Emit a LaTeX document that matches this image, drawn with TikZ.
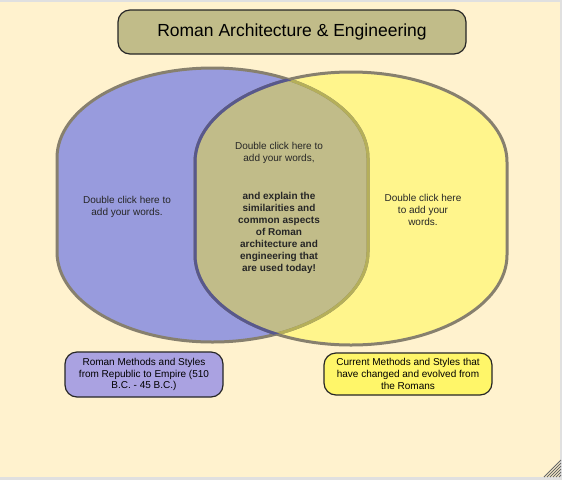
\documentclass[tikz,border=0pt]{standalone}
\usepackage{fontspec}
\setmainfont{Liberation Sans}
\usetikzlibrary{positioning}

\definecolor{paper}{RGB}{255,242,206}
\definecolor{rimgray}{RGB}{135,128,110}
\definecolor{lavender}{RGB}{152,155,221}
\definecolor{lemon}{RGB}{255,245,140}
\definecolor{olivemix}{RGB}{193,188,137}
\definecolor{bluerim}{RGB}{88,88,140}
\definecolor{yellowrim}{RGB}{181,175,90}
\definecolor{lilacbox}{RGB}{170,162,225}
\definecolor{lemonbox}{RGB}{255,246,105}

% the two overlapping rounded shapes
\newcommand{\romanpath}{(57,158) arc[start angle=180, end angle=360, x radius=155.5, y radius=90] -- (368,252) arc[start angle=0, end angle=180, x radius=155.5, y radius=90] -- cycle}
\newcommand{\todaypath}{(195,162) arc[start angle=180, end angle=360, x radius=156, y radius=90] -- (507,255) arc[start angle=0, end angle=180, x radius=156, y radius=90] -- cycle}

\begin{document}
\begin{tikzpicture}[x=1pt, y=-1pt,
    words/.style={align=center, font=\fontsize{10}{12}\selectfont, text=black!85},
    labelbox/.style={draw=black!85, line width=1.2pt, rounded corners=12pt, align=center,
      font=\fontsize{10}{11.7}\selectfont, inner sep=2pt}]
    \useasboundingbox (0,0) rectangle (562,480);
    \fill[paper] (0,0) rectangle (562,480);
    \fill[black!12] (0,0) rectangle (562,2);
    \fill[black!12] (0,477) rectangle (562,480);
    \fill[black!12] (560,0) rectangle (562,480);

    % resize grip
    \foreach \k in {2,5,...,17} {
        \draw[black!60, line width=0.8pt] (561-\k,477) -- (561,477-\k);
    }

    % filled regions
    \fill[lavender] \romanpath;
    \fill[lemon] \todaypath;
    \begin{scope}
        \clip \romanpath;
        \fill[olivemix] \todaypath;
    \end{scope}

    % outlines
    \draw[rimgray, line width=3pt] \romanpath;
    \begin{scope}
        \clip \todaypath;
        \draw[yellowrim, line width=3pt] \romanpath;
    \end{scope}
    \draw[rimgray, line width=3pt] \todaypath;
    \begin{scope}
        \clip \romanpath;
        \draw[bluerim, line width=3pt] \todaypath;
    \end{scope}

    % title
    \node[draw=black!85, line width=1.2pt, rounded corners=12pt, fill=olivemix,
      minimum width=348pt, minimum height=44pt, font=\fontsize{17.5}{20}\selectfont]
      (title) at (292,32) {Roman Architecture \& Engineering};

    % texts in the regions
    \node[words] (romanwords) at (127,207) {Double click here to\\add your words.};
    \node[words] (todaywords) at (423,210) {Double click here\\to add your\\words.};
    \node[words] (sharedwords) at (279,153) {Double click here to\\add your words,};
    \node[words, font=\fontsize{10}{12}\selectfont\bfseries, below=22pt of sharedwords]
      (sharedexplain) {and explain the\\similarities and\\common aspects\\of Roman\\architecture and\\engineering that\\are used today!};

    % captions
    \node[labelbox, fill=lilacbox, minimum width=158pt, minimum height=45pt]
      (romanlabel) at (144,374.5) {Roman Methods and Styles\\from Republic to Empire (510\\B.C. - 45 B.C.)};
    \node[labelbox, fill=lemonbox, minimum width=168pt, minimum height=42pt]
      (todaylabel) at (408,374) {Current Methods and Styles that\\have changed and evolved from\\the Romans};
\end{tikzpicture}
\end{document}
